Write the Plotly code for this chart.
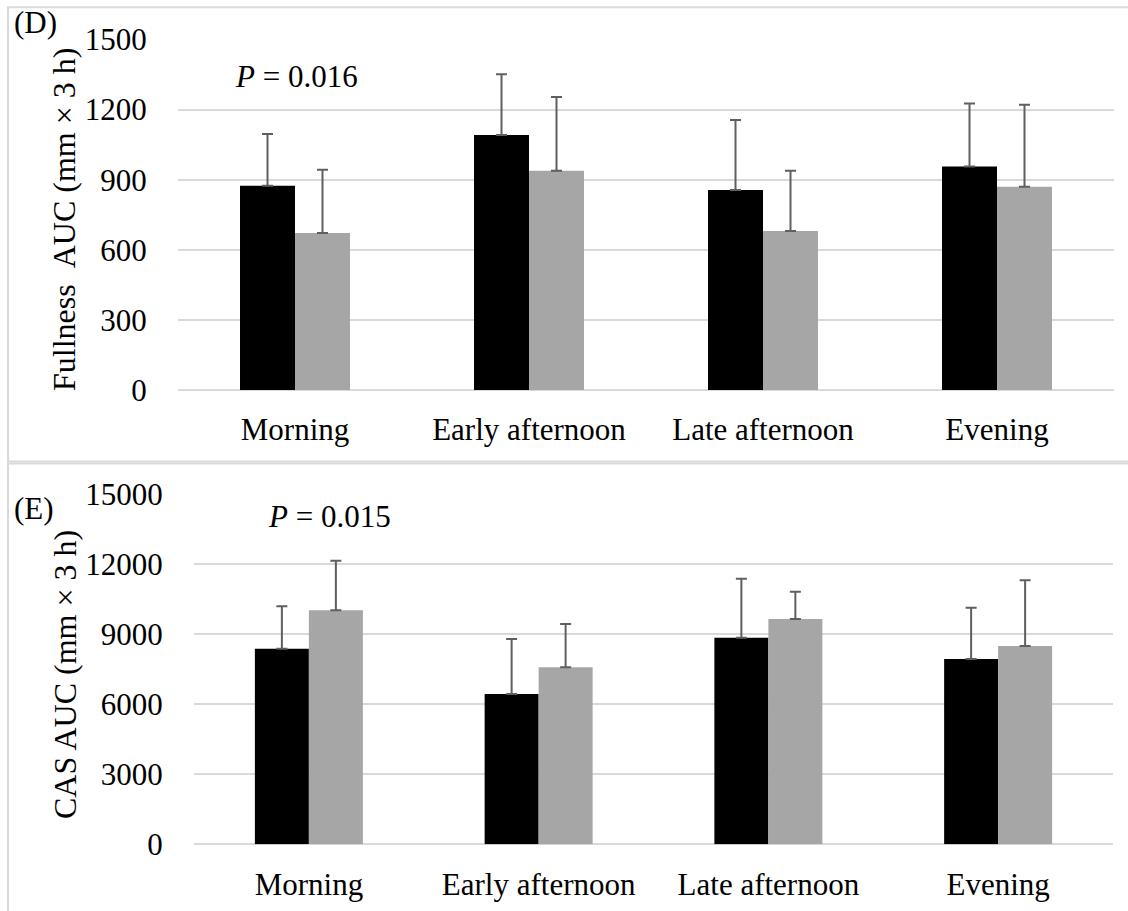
import plotly.graph_objects as go

# Time-of-day conditions
periods = ["Morning", "Early afternoon", "Late afternoon", "Evening"]

# Panel D: fullness AUC (mean and SD) for the two groups
fullness_black = [874, 1091, 856, 957]
fullness_black_sd = [222, 260, 300, 269]
fullness_gray = [672, 938, 680, 870]
fullness_gray_sd = [271, 316, 258, 351]

# Panel E: CAS AUC (mean and SD) for the two groups
cas_black = [8375, 6435, 8846, 7934]
cas_black_sd = [1815, 2355, 2526, 2196]
cas_gray = [10018, 7578, 9646, 8490]
cas_gray_sd = [2124, 1854, 1169, 2813]

fullness_ticks = [0, 300, 600, 900, 1200, 1500]
cas_ticks = [0, 3000, 6000, 9000, 12000, 15000]

W, H = 1128, 911
FONT = "'Liberation Serif', 'Times New Roman', serif"
GRID = "#D9D9D9"
ERR = "#5F5F5F"


def px_x(x):
    return x / W


def px_y(y):
    return 1 - y / H


def err(sd):
    return dict(type="data", array=sd, arrayminus=[0] * len(sd), symmetric=False,
                color=ERR, thickness=2, width=5.5)


fig = go.Figure()
fig.add_trace(go.Bar(x=periods, y=fullness_black, marker_color="#000000", marker_line_width=0,
                     error_y=err(fullness_black_sd), xaxis="x", yaxis="y", showlegend=False))
fig.add_trace(go.Bar(x=periods, y=fullness_gray, marker_color="#A6A6A6", marker_line_width=0,
                     error_y=err(fullness_gray_sd), xaxis="x", yaxis="y", showlegend=False))
fig.add_trace(go.Bar(x=periods, y=cas_black, marker_color="#000000", marker_line_width=0,
                     error_y=err(cas_black_sd), xaxis="x2", yaxis="y2", showlegend=False))
fig.add_trace(go.Bar(x=periods, y=cas_gray, marker_color="#A6A6A6", marker_line_width=0,
                     error_y=err(cas_gray_sd), xaxis="x2", yaxis="y2", showlegend=False))

tickfont = dict(family=FONT, size=31, color="#000000")

xcommon = dict(showline=False, showgrid=False, zeroline=False, ticks="outside",
               tickcolor="rgba(0,0,0,0)", ticklen=12, tickfont=tickfont, fixedrange=True)
ycommon = dict(showline=False, showgrid=True, gridcolor=GRID, gridwidth=1.5,
               zeroline=True, zerolinecolor=GRID, zerolinewidth=1.5,
               ticks="outside", tickcolor="rgba(0,0,0,0)", ticklen=24,
               tickformat="d", tickfont=tickfont, fixedrange=True)

fig.update_layout(
    width=W, height=H, autosize=False,
    margin=dict(l=0, r=0, t=0, b=0, autoexpand=False),
    paper_bgcolor="white", plot_bgcolor="white",
    barmode="group", bargap=0.53, bargroupgap=0,
    showlegend=False,
    font=dict(family=FONT, color="#000000"),
    xaxis=dict(domain=[px_x(178), px_x(1114)], anchor="y", **xcommon),
    yaxis=dict(domain=[px_y(390), px_y(39.5)], anchor="x", range=[0, 1500],
               tickvals=fullness_ticks, **ycommon),
    xaxis2=dict(domain=[px_x(194), px_x(1113)], anchor="y2", **xcommon),
    yaxis2=dict(domain=[px_y(844.3), px_y(494)], anchor="x2", range=[0, 15000],
                tickvals=cas_ticks, **ycommon),
)

# Panel frames
fig.add_shape(type="rect", xref="paper", yref="paper",
              x0=px_x(8), x1=1.05, y0=px_y(461.5), y1=px_y(7.3),
              line=dict(color=GRID, width=2), fillcolor="rgba(0,0,0,0)", layer="below")
fig.add_shape(type="rect", xref="paper", yref="paper",
              x0=px_x(8), x1=1.05, y0=-0.05, y1=px_y(463.5),
              line=dict(color=GRID, width=2), fillcolor="rgba(0,0,0,0)", layer="below")

labels = [
    ("(D)", 35, 22, 0),
    ("(E)", 34, 508, 0),
    ("<i>P</i> = 0.016", 296, 76, 0),
    ("<i>P</i> = 0.015", 329, 516, 0),
    ("Fullness\u00a0\u00a0AUC (mm × 3 h)", 64, 220, -90),
    ("CAS AUC (mm × 3 h)", 65, 675, -90),
]
for text, x, y, ang in labels:
    fig.add_annotation(text=text, xref="paper", yref="paper", x=px_x(x), y=px_y(y),
                       xanchor="center", yanchor="middle", showarrow=False, textangle=ang,
                       font=dict(family=FONT, size=31 if ang == 0 else 32, color="#000000"))

fig.write_html("out.html")
